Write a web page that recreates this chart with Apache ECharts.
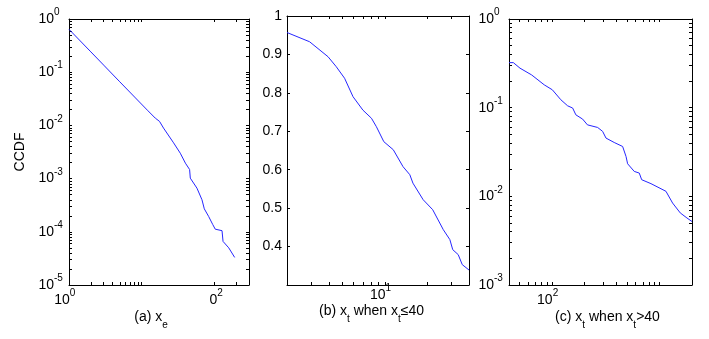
<!DOCTYPE html>
<html><head><meta charset="utf-8">
<script src="https://cdn.jsdelivr.net/npm/echarts@6/dist/echarts.min.js"></script>
<style>html,body{margin:0;padding:0;background:#fff}#c{width:709px;height:339px}</style>
</head><body><div id="c"></div>
<script>
// ---- Panel (a): CCDF of x_e ----
const xeValues = [1, 2, 3, 5, 8, 12, 15.4, 17.6, 20, 27.5, 34, 40, 45.7, 46.7, 57.7, 67.6, 72.8, 83.4, 94.8, 103, 127.6, 131.8, 157.8, 190.5];
const xeCcdf   = [0.64, 0.241, 0.136, 0.066, 0.0341, 0.0193, 0.0137, 0.0119, 0.0089, 0.0047, 0.0030, 0.00195, 0.00148, 0.00102, 0.00066, 0.0004, 0.00027, 0.000195, 0.000138, 0.000112, 0.000105, 0.000066, 0.00005, 0.000033];
// ---- Panel (b): CCDF of x_t, x_t <= 40 ----
const xtLowValues = [2, 2.9, 3.93, 4.5, 5.16, 5.93, 6.98, 8.03, 8.71, 9.84, 11.5, 13.5, 15.1, 15.9, 18.8, 22, 26.2, 29.2, 30.6, 33.5, 35.8, 40];
const xtLowCcdf   = [0.957, 0.933, 0.894, 0.868, 0.838, 0.79, 0.755, 0.734, 0.712, 0.673, 0.652, 0.608, 0.587, 0.565, 0.522, 0.496, 0.444, 0.418, 0.392, 0.379, 0.353, 0.339];
// ---- Panel (c): CCDF of x_t, x_t > 40 ----
const xtHighValues = [40, 43.9, 50.6, 64.9, 84.9, 101, 121, 140, 156, 167, 193, 214, 266, 296, 318, 379, 454, 488, 505, 582, 648, 682, 832, 1146, 1321, 1556, 1795, 2000];
const xtHighCcdf   = [0.322, 0.322, 0.279, 0.234, 0.181, 0.159, 0.123, 0.105, 0.099, 0.083, 0.0743, 0.064, 0.0598, 0.054, 0.0454, 0.0405, 0.0365, 0.0282, 0.0233, 0.0191, 0.0183, 0.0154, 0.0139, 0.0114, 0.0084, 0.0065, 0.0057, 0.0052];

// ---- tick labels ----
const xeLabelValues = [1, 100];
const xeLabelTexts  = ['10^0', '0^2'];
const yaLabelValues = [1, 0.1, 0.01, 0.001, 0.0001, 0.00001];
const yaLabelTexts  = ['10^0', '10^-1', '10^-2', '10^-3', '10^-4', '10^-5'];
const xbLabelValues = [10];
const xbLabelTexts  = ['10^1'];
const ybLabelValues = [1, 0.9, 0.8, 0.7, 0.6, 0.5, 0.4];
const ybLabelTexts  = ['1', '0.9', '0.8', '0.7', '0.6', '0.5', '0.4'];
const xcLabelValues = [100];
const xcLabelTexts  = ['10^2'];
const ycLabelValues = [1, 0.1, 0.01, 0.001];
const ycLabelTexts  = ['10^0', '10^-1', '10^-2', '10^-3'];

// ---- tick positions ----
const xeTicks = [2, 3, 4, 5, 6, 7, 8, 9, 10, 100, 200];
const xbTicks = [3, 4, 5, 6, 7, 8, 9, 10, 20, 30];
const ybTicks = [0.4, 0.5, 0.6, 0.7, 0.8, 0.9];
const xcTicks = [50, 60, 70, 80, 90, 100, 200, 300, 400, 500, 600, 700, 800, 900, 1000];
function decadeTicks(loExp, hiExp) {
  const t = [];
  for (let e = loExp; e < hiExp; e++) for (let k = 1; k <= 9; k++) t.push(k * Math.pow(10, e));
  return t.filter((v, i) => i > 0);
}
const yaTicks = decadeTicks(-5, 0);
const ycTicks = decadeTicks(-3, 0);

const panelTitles = ['(a) x_e', '(b) x_t when x_t\u226440', '(c) x_t when x_t>40'];

const FONT = '"Liberation Sans", Arial, Helvetica, sans-serif';
const BLUE = '#2626ff';

function findLabel(v, vals, texts, isLog) {
  for (let j = 0; j < vals.length; j++) {
    if (isLog) {
      if (Math.abs(Math.log10(vals[j]) - Math.log10(v)) < 1e-6) return texts[j];
      if (Math.abs(Math.log10(vals[j]) - v) < 1e-6) return texts[j];
    } else if (Math.abs(vals[j] - v) < 1e-9) return texts[j];
  }
  return '';
}
function richPow(text, kind) {
  const i = text.indexOf('^');
  if (i < 0) return text;
  const base = text.slice(0, i), exp = text.slice(i + 1);
  let s = '{b|' + base + '}{s|' + exp + '}';
  if (kind === 'x' && base.length === 1) s = '{p| }' + s;
  return s;
}
function richStyles(kind) {
  return {
    b: {fontSize: 14, lineHeight: 14, align: 'left', fontFamily: FONT, color: '#000'},
    s: {fontSize: 10, lineHeight: 10, padding: [0, 0, 13, 0], align: 'left', width: kind === 'x' ? 14 : 12, fontFamily: FONT, color: '#000'},
    p: {fontSize: 14, lineHeight: 14, align: 'left', width: 12, fontFamily: FONT}
  };
}
function titleRich(t) {
  return ('{m|' + t.replace(/_(\w)/g, '}{sub|$1}{m|') + '}').replace(/\{m\|\}/g, '');
}

const lineCol = {color: '#000', width: 1};
function makeAxis(o) {
  const ax = {
    type: o.type, gridIndex: o.grid, position: o.position, min: o.min, max: o.max,
    axisLine: {show: true, onZero: false, lineStyle: lineCol},
    splitLine: {show: false},
    axisTick: {show: true, inside: true, length: 3, lineStyle: lineCol, customValues: o.ticks},
    axisLabel: {show: !!o.labelVals}
  };
  if (o.type === 'log') ax.logBase = 10;
  if (o.labelVals) {
    const isLog = o.type === 'log';
    const kind = (o.position === 'bottom' || o.position === 'top') ? 'x' : 'y';
    ax.axisLabel = {
      show: true, customValues: o.labelVals, margin: o.margin,
      fontFamily: FONT, fontSize: 14, color: '#000',
      formatter: function (v) { return richPow(findLabel(v, o.labelVals, o.labelTexts, isLog), kind); },
      rich: richStyles(kind)
    };
  }
  if (o.name) {
    ax.name = o.name; ax.nameLocation = 'middle'; ax.nameRotate = 90; ax.nameGap = o.nameGap;
    ax.nameTextStyle = {fontFamily: FONT, fontSize: 14, color: '#000'};
  }
  return ax;
}

const grids = [
  {left: 69, top: 19, width: 180, height: 266},
  {left: 287, top: 16, width: 182, height: 269},
  {left: 509, top: 19, width: 183, height: 266}
];

const xAxes = [
  makeAxis({grid: 0, type: 'log', min: 1, max: 300, position: 'bottom', ticks: xeTicks, labelVals: xeLabelValues, labelTexts: xeLabelTexts, margin: 8}),
  makeAxis({grid: 0, type: 'log', min: 1, max: 300, position: 'top', ticks: xeTicks}),
  makeAxis({grid: 1, type: 'log', min: 2, max: 40, position: 'bottom', ticks: xbTicks, labelVals: xbLabelValues, labelTexts: xbLabelTexts, margin: 3}),
  makeAxis({grid: 1, type: 'log', min: 2, max: 40, position: 'top', ticks: xbTicks}),
  makeAxis({grid: 2, type: 'log', min: 40, max: 2000, position: 'bottom', ticks: xcTicks, labelVals: xcLabelValues, labelTexts: xcLabelTexts, margin: 8}),
  makeAxis({grid: 2, type: 'log', min: 40, max: 2000, position: 'top', ticks: xcTicks})
];
const yAxes = [
  makeAxis({grid: 0, type: 'log', min: 0.00001, max: 1, position: 'left', ticks: yaTicks, labelVals: yaLabelValues, labelTexts: yaLabelTexts, margin: 3, name: 'CCDF', nameGap: 42}),
  makeAxis({grid: 0, type: 'log', min: 0.00001, max: 1, position: 'right', ticks: yaTicks}),
  makeAxis({grid: 1, type: 'value', min: 0.3, max: 1, position: 'left', ticks: ybTicks, labelVals: ybLabelValues, labelTexts: ybLabelTexts, margin: 5}),
  makeAxis({grid: 1, type: 'value', min: 0.3, max: 1, position: 'right', ticks: ybTicks}),
  makeAxis({grid: 2, type: 'log', min: 0.001, max: 1, position: 'left', ticks: ycTicks, labelVals: ycLabelValues, labelTexts: ycLabelTexts, margin: 3}),
  makeAxis({grid: 2, type: 'log', min: 0.001, max: 1, position: 'right', ticks: ycTicks})
];

function pairs(xs, ys) { return xs.map((x, i) => [x, ys[i]]); }
const series = [
  {type: 'line', xAxisIndex: 0, yAxisIndex: 0, data: pairs(xeValues, xeCcdf)},
  {type: 'line', xAxisIndex: 2, yAxisIndex: 2, data: pairs(xtLowValues, xtLowCcdf)},
  {type: 'line', xAxisIndex: 4, yAxisIndex: 4, data: pairs(xtHighValues, xtHighCcdf)}
].map(s => Object.assign(s, {showSymbol: false, symbol: 'none', lineStyle: {color: BLUE, width: 1}, itemStyle: {color: BLUE}}));

const titleCenters = [151, 371.5, 607.5];
const titleTops = [310, 304, 310];
const titles = panelTitles.map((t, i) => ({
  text: titleRich(t), left: titleCenters[i], top: titleTops[i], textAlign: 'center', padding: 0,
  textStyle: {
    fontFamily: FONT, fontSize: 14, fontWeight: 'normal', color: '#000',
    rich: {
      m: {fontSize: 14, lineHeight: 14, align: 'left', fontFamily: FONT, color: '#000'},
      sub: {fontSize: 10, lineHeight: 10, padding: [16, 0, 0, 0], align: 'left', fontFamily: FONT, color: '#000'}
    }
  }
}));

const chart = echarts.init(document.getElementById('c'), null, {renderer: 'canvas'});
chart.setOption({
  animation: false,
  backgroundColor: '#fff',
  title: titles,
  grid: grids,
  xAxis: xAxes,
  yAxis: yAxes,
  series: series
});
</script></body></html>
